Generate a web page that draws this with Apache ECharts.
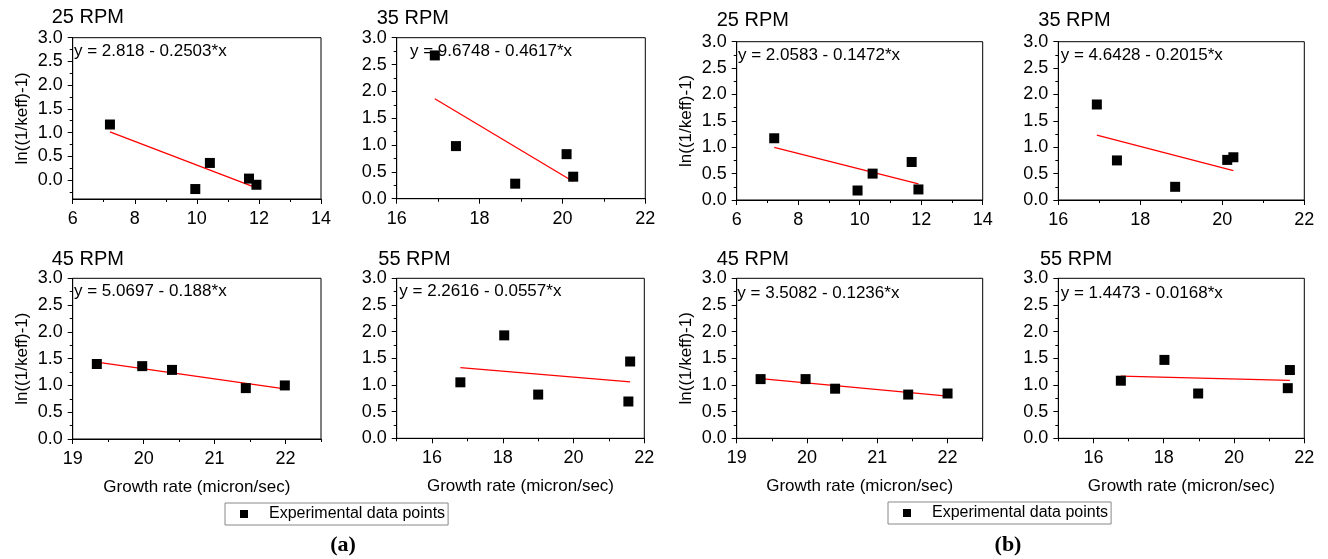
<!DOCTYPE html>
<html>
<head>
<meta charset="utf-8">
<script src="https://cdn.jsdelivr.net/npm/echarts@6/dist/echarts.min.js"></script>
<style>
  html, body { margin: 0; padding: 0; background: #fff; }
  #chart { width: 1328px; height: 559px; }
</style>
</head>
<body>
<div id="chart"></div>
<script>
// Panel titles (rotation speed)
const rpmTitles = ['25 RPM', '35 RPM', '45 RPM', '55 RPM'];

// Set (a): growth rate (micron/sec) vs ln((1/keff)-1)
const growthA25 = [7.20, 9.95, 10.42, 11.68, 11.92];
const lnKA25    = [1.17, -0.19, 0.36, 0.03, -0.10];
const growthA35 = [16.92, 17.43, 18.86, 20.10, 20.26];
const lnKA35    = [2.67, 0.98, 0.28, 0.83, 0.41];
const growthA45 = [19.34, 19.98, 20.40, 21.44, 21.99];
const lnKA45    = [1.40, 1.36, 1.29, 0.95, 1.00];
const growthA55 = [16.80, 18.04, 19.00, 21.55, 21.60];
const lnKA55    = [1.05, 1.93, 0.82, 0.69, 1.44];

// Set (b)
const growthB25 = [7.22, 9.93, 10.42, 11.69, 11.91];
const lnKB25    = [1.17, 0.18, 0.50, 0.72, 0.20];
const growthB35 = [16.94, 17.43, 18.85, 20.12, 20.27];
const lnKB35    = [1.81, 0.75, 0.25, 0.76, 0.81];
const growthB45 = [19.34, 19.98, 20.40, 21.44, 22.00];
const lnKB45    = [1.11, 1.11, 0.93, 0.82, 0.84];
const growthB55 = [16.78, 18.02, 18.98, 21.53, 21.59];
const lnKB55    = [1.08, 1.47, 0.84, 0.94, 1.28];

// Linear fits: y = intercept - slope*x
const fitInterceptA = [2.818, 9.6748, 5.0697, 2.2616];
const fitSlopeA     = [0.2503, 0.4617, 0.188, 0.0557];
const fitInterceptB = [2.0583, 4.6428, 3.5082, 1.4473];
const fitSlopeB     = [0.1472, 0.2015, 0.1236, 0.0168];

// Axis tick values
const xTicks25 = [6, 8, 10, 12, 14];
const xMinor25 = [7, 9, 11, 13];
const xTicks35 = [16, 18, 20, 22];
const xMinor35 = [17, 19, 21];
const xTicks45 = [19, 20, 21, 22];
const xMinor45 = [19.5, 20.5, 21.5, 22.5];
const xTicks55 = [16, 18, 20, 22];
const xMinor55 = [15, 17, 19, 21];
const yTicks = [0, 0.5, 1, 1.5, 2, 2.5, 3];
const yMinor = [-0.25, 0.25, 0.75, 1.25, 1.75, 2.25, 2.75];

// Text
const legendLabel = 'Experimental data points';
const setLabels = ['(a)', '(b)'];
const yAxisTitle = 'ln((1/keff)-1)';
const xAxisTitle = 'Growth rate (micron/sec)';

const FONT = '"Liberation Sans", Arial, Helvetica, sans-serif';

// Panel layout: plot rectangle, title and equation anchors
const panels = [
  { gx: growthA25, gy: lnKA25, b: fitInterceptA[0], m: fitSlopeA[0], title: rpmTitles[0], xr: [6, 14],   ymin: -0.4, xt: xTicks25, xm: xMinor25,
    rect: [72.7, 37.7, 248.3, 161.3], tpos: [51.7, 18], epos: [74, 51.7], yName: true, xName: false },
  { gx: growthA35, gy: lnKA35, b: fitInterceptA[1], m: fitSlopeA[1], title: rpmTitles[1], xr: [16, 22],  ymin: 0, xt: xTicks35, xm: xMinor35,
    rect: [396.7, 37.7, 248.6, 161], tpos: [376.7, 19], epos: [410, 51.7], yName: false, xName: false },
  { gx: growthA45, gy: lnKA45, b: fitInterceptA[2], m: fitSlopeA[2], title: rpmTitles[2], xr: [19, 22.5], ymin: 0, xt: xTicks45, xm: xMinor45,
    rect: [72.7, 278.3, 248.3, 160.7], tpos: [51.7, 260], epos: [74, 291.7], yName: true, xName: true },
  { gx: growthA55, gy: lnKA55, b: fitInterceptA[3], m: fitSlopeA[3], title: rpmTitles[3], xr: [15, 22],  ymin: 0, xt: xTicks55, xm: xMinor55,
    rect: [396.7, 278.3, 247.6, 160], tpos: [378.3, 260], epos: [399.3, 291.7], yName: false, xName: true },
  { gx: growthB25, gy: lnKB25, b: fitInterceptB[0], m: fitSlopeB[0], title: rpmTitles[0], xr: [6, 14],   ymin: 0, xt: xTicks25, xm: xMinor25,
    rect: [736.7, 41.7, 246, 158.3], tpos: [716.7, 21.7], epos: [738, 55], yName: true, xName: false },
  { gx: growthB35, gy: lnKB35, b: fitInterceptB[1], m: fitSlopeB[1], title: rpmTitles[1], xr: [16, 22],  ymin: 0, xt: xTicks35, xm: xMinor35,
    rect: [1058.3, 41.7, 246, 158.3], tpos: [1038.3, 21.7], epos: [1060.7, 55], yName: false, xName: false },
  { gx: growthB45, gy: lnKB45, b: fitInterceptB[2], m: fitSlopeB[2], title: rpmTitles[2], xr: [19, 22.5], ymin: 0, xt: xTicks45, xm: xMinor45,
    rect: [736.7, 278.3, 246, 160], tpos: [716.7, 260], epos: [737.3, 293.3], yName: true, xName: true },
  { gx: growthB55, gy: lnKB55, b: fitInterceptB[3], m: fitSlopeB[3], title: rpmTitles[3], xr: [15, 22],  ymin: 0, xt: xTicks55, xm: xMinor55,
    rect: [1058.3, 278.3, 246, 160], tpos: [1040, 260], epos: [1060.7, 293.3], yName: false, xName: true }
];

const grids = [], xAxes = [], yAxes = [], series = [], titles = [], graphics = [];
const black = '#000';
const labelStyle = { color: black, fontSize: 18, fontFamily: FONT };
const nameStyle = { color: black, fontSize: 17, fontFamily: FONT };

panels.forEach((p, i) => {
  const [l, t, w, h] = p.rect;
  grids.push({ left: l, top: t, width: w, height: h, show: true, borderColor: black, borderWidth: 1, backgroundColor: 'transparent' });

  // major x axis with labels
  xAxes.push({
    gridIndex: i, type: 'value', min: p.xr[0], max: p.xr[1], position: 'bottom',
    axisLine: { onZero: false, lineStyle: { color: black, width: 1 } },
    axisTick: { customValues: p.xt, length: 5, lineStyle: { color: black, width: 1 } },
    axisLabel: { customValues: p.xt, margin: 11, ...labelStyle },
    splitLine: { show: false },
    name: p.xName ? xAxisTitle : '', nameLocation: 'middle', nameGap: 40, nameTextStyle: nameStyle
  });
  // minor x ticks
  xAxes.push({
    gridIndex: i, type: 'value', min: p.xr[0], max: p.xr[1], position: 'bottom',
    axisLine: { show: false, onZero: false },
    axisTick: { customValues: p.xm.filter(v => v >= p.xr[0] && v <= p.xr[1]), length: 3, lineStyle: { color: black, width: 1 } },
    axisLabel: { show: false }, splitLine: { show: false }
  });
  // major y axis with labels
  yAxes.push({
    gridIndex: i, type: 'value', min: p.ymin, max: 3, position: 'left',
    axisLine: { onZero: false, lineStyle: { color: black, width: 1 } },
    axisTick: { customValues: yTicks, length: 5, lineStyle: { color: black, width: 1 } },
    axisLabel: { customValues: yTicks, margin: 10, formatter: v => Number(v).toFixed(1), ...labelStyle },
    splitLine: { show: false },
    name: p.yName ? yAxisTitle : '', nameLocation: 'middle', nameGap: 42, nameTextStyle: nameStyle
  });
  // minor y ticks
  yAxes.push({
    gridIndex: i, type: 'value', min: p.ymin, max: 3, position: 'left',
    axisLine: { show: false, onZero: false },
    axisTick: { customValues: yMinor.filter(v => v >= p.ymin && v <= 3), length: 3, lineStyle: { color: black, width: 1 } },
    axisLabel: { show: false }, splitLine: { show: false }
  });

  // fitted line across the measured range
  const x0 = Math.min(...p.gx), x1 = Math.max(...p.gx);
  series.push({
    type: 'line', name: 'fit ' + i, xAxisIndex: 2 * i, yAxisIndex: 2 * i,
    data: [[x0, p.b - p.m * x0], [x1, p.b - p.m * x1]],
    showSymbol: false, symbol: 'none', silent: true, z: 2,
    lineStyle: { color: '#ff0000', width: 1.3 }, animation: false
  });
  // measured points
  series.push({
    type: 'scatter', name: legendLabel, xAxisIndex: 2 * i, yAxisIndex: 2 * i,
    data: p.gx.map((x, k) => [x, p.gy[k]]),
    symbol: 'rect', symbolSize: 10, itemStyle: { color: black, opacity: 1 }, z: 3, animation: false
  });

  titles.push({
    text: p.title, left: p.tpos[0], top: p.tpos[1] - 11, padding: 0,
    textStyle: { fontSize: 20, fontWeight: 'normal', fontFamily: FONT, color: black }
  });

  graphics.push({
    type: 'text', x: p.epos[0], y: p.epos[1], silent: true,
    style: { text: 'y = ' + p.b + ' - ' + p.m + '*x', fontSize: 17, fontFamily: FONT, fill: black, verticalAlign: 'middle', align: 'left' }
  });
});

// set labels (a) and (b)
[[343, 545], [1008, 545]].forEach((pos, k) => {
  graphics.push({
    type: 'text', x: pos[0], y: pos[1], silent: true,
    style: { text: setLabels[k], fontSize: 22, fontWeight: 'bold', fontFamily: '"Liberation Serif", "Times New Roman", serif', fill: black, align: 'center', verticalAlign: 'middle' }
  });
});

const legendBase = {
  data: [legendLabel], icon: 'rect', itemWidth: 8, itemHeight: 8, selectedMode: false,
  borderColor: '#888', borderWidth: 1, backgroundColor: '#fff', borderRadius: 0,
  padding: [3, 3, 3, 15],
  itemStyle: { opacity: 1, color: black },
  textStyle: { fontSize: 16, fontFamily: FONT, color: black, padding: [0, 0, 0, 16] }
};

const chart = echarts.init(document.getElementById('chart'), null, { renderer: 'canvas' });
chart.setOption({
  animation: false,
  backgroundColor: '#fff',
  title: titles,
  grid: grids,
  xAxis: xAxes,
  yAxis: yAxes,
  legend: [
    Object.assign({}, legendBase, { left: 225, top: 503 }),
    Object.assign({}, legendBase, { left: 888, top: 502 })
  ],
  graphic: graphics,
  series: series
});
</script>
</body>
</html>
